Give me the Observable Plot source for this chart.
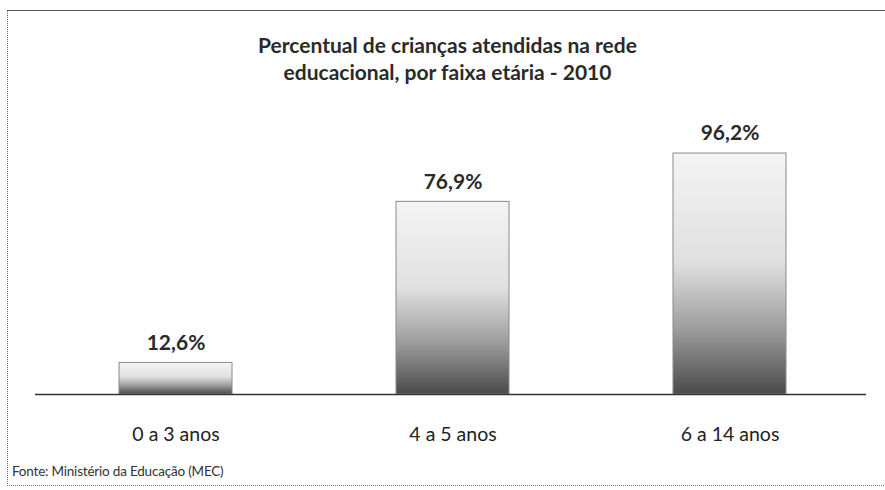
<!DOCTYPE html>
<html>
<head>
<meta charset="utf-8">
<script src="https://cdn.jsdelivr.net/npm/d3@7"></script>
<script src="https://cdn.jsdelivr.net/npm/@observablehq/plot@0.6"></script>
<style>
  html, body { margin: 0; padding: 0; background: #fff; }
  #wrap { position: relative; width: 885px; height: 490px; overflow: hidden; font-family: Lato, "Open Sans", sans-serif; color: #222; }
  #frame { position: absolute; left: 7px; top: 10px; width: 890px; height: 474px; border-top: 1.5px solid #555; border-left: 1px dotted #666; border-bottom: 1px dotted #777; }
  #title { position: absolute; left: 10px; width: 875px; top: 31px; text-align: center; font-weight: bold; font-size: 21px; line-height: 27px; color: #2a2a2a; }
  #chart { position: absolute; left: 0; top: 100px; }
  #caption { position: absolute; left: 12px; top: 463px; font-size: 13.5px; letter-spacing: -0.2px; color: #333; }
</style>
</head>
<body>
<div id="wrap">
  <div id="frame"></div>
  <div id="title">Percentual de crianças atendidas na rede<br>educacional, por faixa etária - 2010</div>
  <div id="chart"></div>
  <div id="caption">Fonte: Ministério da Educação (MEC)</div>
</div>
<script>
const categories = ["0 a 3 anos", "4 a 5 anos", "6 a 14 anos"];
const values = [12.6, 76.9, 96.2];
const valueLabels = ["12,6%", "76,9%", "96,2%"];

const data = categories.map((c, i) => ({cat: c, value: values[i], label: valueLabels[i]}));

const chart = Plot.plot({
  width: 885,
  height: 360,
  marginLeft: 50,
  marginRight: 30,
  marginTop: 43.5,
  marginBottom: 66,
  style: {background: "transparent", overflow: "visible"},
  x: {domain: categories, paddingInner: 0.592, paddingOuter: 0.249, axis: null},
  y: {domain: [0, 100], axis: null},
  marks: [
    () => {
      const defs = d3.create("svg:defs");
      const g = defs.append("linearGradient").attr("id", "barGrad").attr("x1", 0).attr("y1", 0).attr("x2", 0).attr("y2", 1);
      g.append("stop").attr("offset", "0%").attr("stop-color", "#f4f4f4");
      g.append("stop").attr("offset", "45%").attr("stop-color", "#e0e0e0");
      g.append("stop").attr("offset", "72%").attr("stop-color", "#a0a0a0");
      g.append("stop").attr("offset", "100%").attr("stop-color", "#4a4a4a");
      const f = defs.append("filter").attr("id", "speckle").attr("x", 0).attr("y", 0).attr("width", 1).attr("height", 1);
      f.append("feTurbulence").attr("type", "fractalNoise").attr("baseFrequency", 0.8).attr("numOctaves", 2).attr("seed", 3).attr("result", "noise");
      f.append("feColorMatrix").attr("in", "noise").attr("type", "matrix")
        .attr("values", "0 0 0 0 0  0 0 0 0 0  0 0 0 0 0  0 0 0 -2.2 1.25").attr("result", "dots");
      f.append("feComposite").attr("in", "dots").attr("in2", "SourceGraphic").attr("operator", "in").attr("result", "dotsIn");
      f.append("feComponentTransfer").attr("in", "dotsIn").attr("result", "dotsSoft")
        .append("feFuncA").attr("type", "linear").attr("slope", 0.45);
      const m = f.append("feMerge");
      m.append("feMergeNode").attr("in", "SourceGraphic");
      m.append("feMergeNode").attr("in", "dotsSoft");
      return defs.node();
    },
    Plot.barY(data, {x: "cat", y: "value", fill: "url(#barGrad)", stroke: "#8a8a8a", strokeWidth: 1, ariaLabel: "bars"}),
    Plot.ruleY([0], {insetLeft: -15, insetRight: -11, stroke: "#333", strokeWidth: 1.5}),
    Plot.text(data, {x: "cat", y: "value", text: "label", dy: -20, fontSize: 21, fontWeight: "bold", fill: "#2a2a2a", fontFamily: "Lato"}),
    Plot.text(data, {x: "cat", y: 0, text: "cat", dy: 40, fontSize: 19.5, fill: "#222", fontFamily: "Lato"})
  ]
});
d3.select(chart).selectAll("g[aria-label='bars'] rect").attr("filter", "url(#speckle)");
document.getElementById("chart").appendChild(chart);
</script>
</body>
</html>
